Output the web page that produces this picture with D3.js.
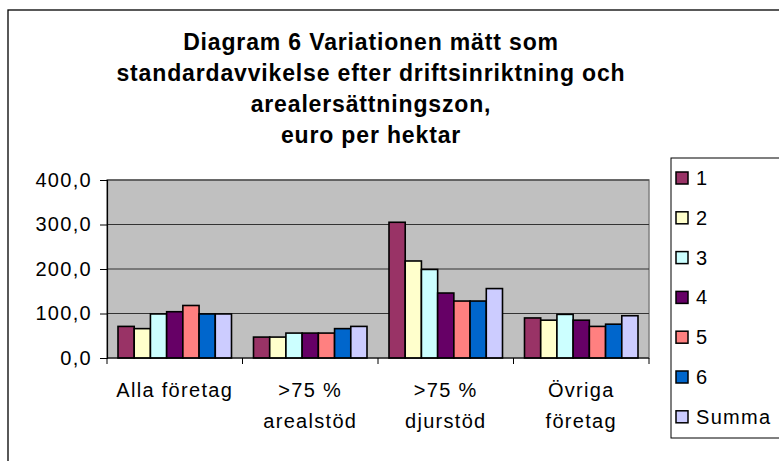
<!DOCTYPE html>
<html>
<head>
<meta charset="utf-8">
<script src="https://d3js.org/d3.v7.min.js"></script>
<style>
  body { margin: 0; background: #fff; }
  svg { display: block; font-family: "Liberation Sans", Arial, sans-serif; }
</style>
</head>
<body>
<svg width="779" height="461"></svg>
<script>
const categories = [["Alla företag"], [">75 %", "arealstöd"], [">75 %", "djurstöd"], ["Övriga", "företag"]];
const seriesNames = ["1", "2", "3", "4", "5", "6", "Summa"];
const colors = ["#993366", "#FFFFCC", "#CCFFFF", "#660066", "#FF8080", "#0066CC", "#CCCCFF"];
// values per category, one per series
const values = [
    [71, 66, 99, 104, 118, 99, 99],
    [47, 47, 56, 56, 56, 66, 71],
    [305, 218, 199, 146, 128, 128, 156],
    [90, 85, 98, 85, 71, 76, 95]
];
const yTicks = [0, 100, 200, 300, 400];
const titleLines = ["Diagram 6 Variationen mätt som", "standardavvikelse efter driftsinriktning och", "arealersättningszon,", "euro per hektar"];

let svg = d3.select("svg");

let plot = { left: 107, right: 649, top: 180, bottom: 358 };
let labelFont = 20,
    labelSpacing = "1.3px";

// outer chart border
svg.append("rect")
    .attr("x", 8).attr("y", 10)
    .attr("width", 800).attr("height", 500)
    .attr("fill", "none")
    .attr("stroke", "#000")
    .attr("stroke-width", 1.3);

// title
svg.append("text")
    .attr("text-anchor", "middle")
    .attr("font-weight", "bold")
    .attr("font-size", 23)
    .attr("letter-spacing", "0.85px")
    .selectAll("tspan")
    .data(titleLines)
    .enter()
    .append("tspan")
    .attr("x", 371)
    .attr("y", function(d, i) { return 50 + i * 31; })
    .text(function(d) { return d; });

let x = d3.scaleBand()
    .domain(d3.range(categories.length))
    .range([plot.left, plot.right]);

let xInner = d3.scaleBand()
    .domain(d3.range(seriesNames.length))
    .range([11, x.bandwidth() - 11]);

let y = d3.scaleLinear()
    .domain([0, 400])
    .range([plot.bottom, plot.top]);

// plot background
svg.append("rect")
    .attr("x", plot.left).attr("y", plot.top)
    .attr("width", plot.right - plot.left)
    .attr("height", plot.bottom - plot.top)
    .attr("fill", "#C0C0C0")
    .attr("stroke", "#808080")
    .attr("stroke-width", 1.5);

// gridlines
svg.append("g")
    .selectAll("line")
    .data(yTicks.slice(1))
    .enter()
    .append("line")
    .attr("x1", plot.left).attr("x2", plot.right)
    .attr("y1", function(d) { return y(d); })
    .attr("y2", function(d) { return y(d); })
    .attr("stroke", "#333")
    .attr("stroke-width", 1);

// bars
let groups = svg.append("g")
    .selectAll("g")
    .data(values)
    .enter()
    .append("g")
    .attr("transform", function(d, i) { return "translate(" + x(i) + ",0)"; });

groups.selectAll("rect")
    .data(function(d) { return d; })
    .enter()
    .append("rect")
    .attr("x", function(d, i) { return xInner(i); })
    .attr("y", function(d) { return y(d); })
    .attr("width", xInner.bandwidth())
    .attr("height", function(d) { return y(0) - y(d); })
    .attr("fill", function(d, i) { return colors[i]; })
    .attr("stroke", "#000")
    .attr("stroke-width", 1.6);

// y axis
let yAxis = d3.axisLeft(y)
    .tickValues(yTicks)
    .tickSize(7)
    .tickPadding(8)
    .tickFormat(function(d) { return d3.format(".1f")(d).replace(".", ","); });

let yg = svg.append("g")
    .attr("transform", "translate(" + plot.left + ",0)")
    .call(yAxis);
yg.select(".domain").attr("stroke", "#000").attr("stroke-width", 1.2);
yg.selectAll(".tick line").attr("stroke", "#000");
yg.selectAll("text")
    .attr("font-size", labelFont)
    .attr("letter-spacing", labelSpacing)
    .attr("font-family", "Liberation Sans, Arial, sans-serif")
    .attr("fill", "#000");

// x axis
let xg = svg.append("g");
xg.append("line")
    .attr("x1", plot.left).attr("x2", plot.right)
    .attr("y1", plot.bottom).attr("y2", plot.bottom)
    .attr("stroke", "#000").attr("stroke-width", 1.2);

xg.selectAll("line.tick")
    .data(d3.range(categories.length + 1))
    .enter()
    .append("line")
    .attr("class", "tick")
    .attr("x1", function(d) { return plot.left + d * x.bandwidth(); })
    .attr("x2", function(d) { return plot.left + d * x.bandwidth(); })
    .attr("y1", plot.bottom).attr("y2", plot.bottom + 6)
    .attr("stroke", "#000");

xg.selectAll("text")
    .data(categories)
    .enter()
    .append("text")
    .attr("text-anchor", "middle")
    .attr("font-size", labelFont)
    .attr("letter-spacing", labelSpacing)
    .selectAll("tspan")
    .data(function(d, i) { return d.map(function(t) { return { t: t, i: i }; }); })
    .enter()
    .append("tspan")
    .attr("x", function(d) { return x(d.i) + x.bandwidth() / 2; })
    .attr("y", function(d, j) { return 397 + j * 31; })
    .text(function(d) { return d.t; });

// legend
let legend = svg.append("g");
legend.append("rect")
    .attr("x", 671).attr("y", 158)
    .attr("width", 140).attr("height", 280)
    .attr("fill", "#fff")
    .attr("stroke", "#000")
    .attr("stroke-width", 1);

let items = legend.selectAll("g")
    .data(seriesNames)
    .enter()
    .append("g")
    .attr("transform", function(d, i) { return "translate(0," + (178 + i * 39.8) + ")"; });

items.append("rect")
    .attr("x", 676).attr("y", -6)
    .attr("width", 12).attr("height", 12)
    .attr("fill", function(d, i) { return colors[i]; })
    .attr("stroke", "#000")
    .attr("stroke-width", 1.5);

items.append("text")
    .attr("x", 696)
    .attr("y", 7)
    .attr("font-size", labelFont)
    .attr("letter-spacing", labelSpacing)
    .text(function(d) { return d; });
</script>
</body>
</html>
